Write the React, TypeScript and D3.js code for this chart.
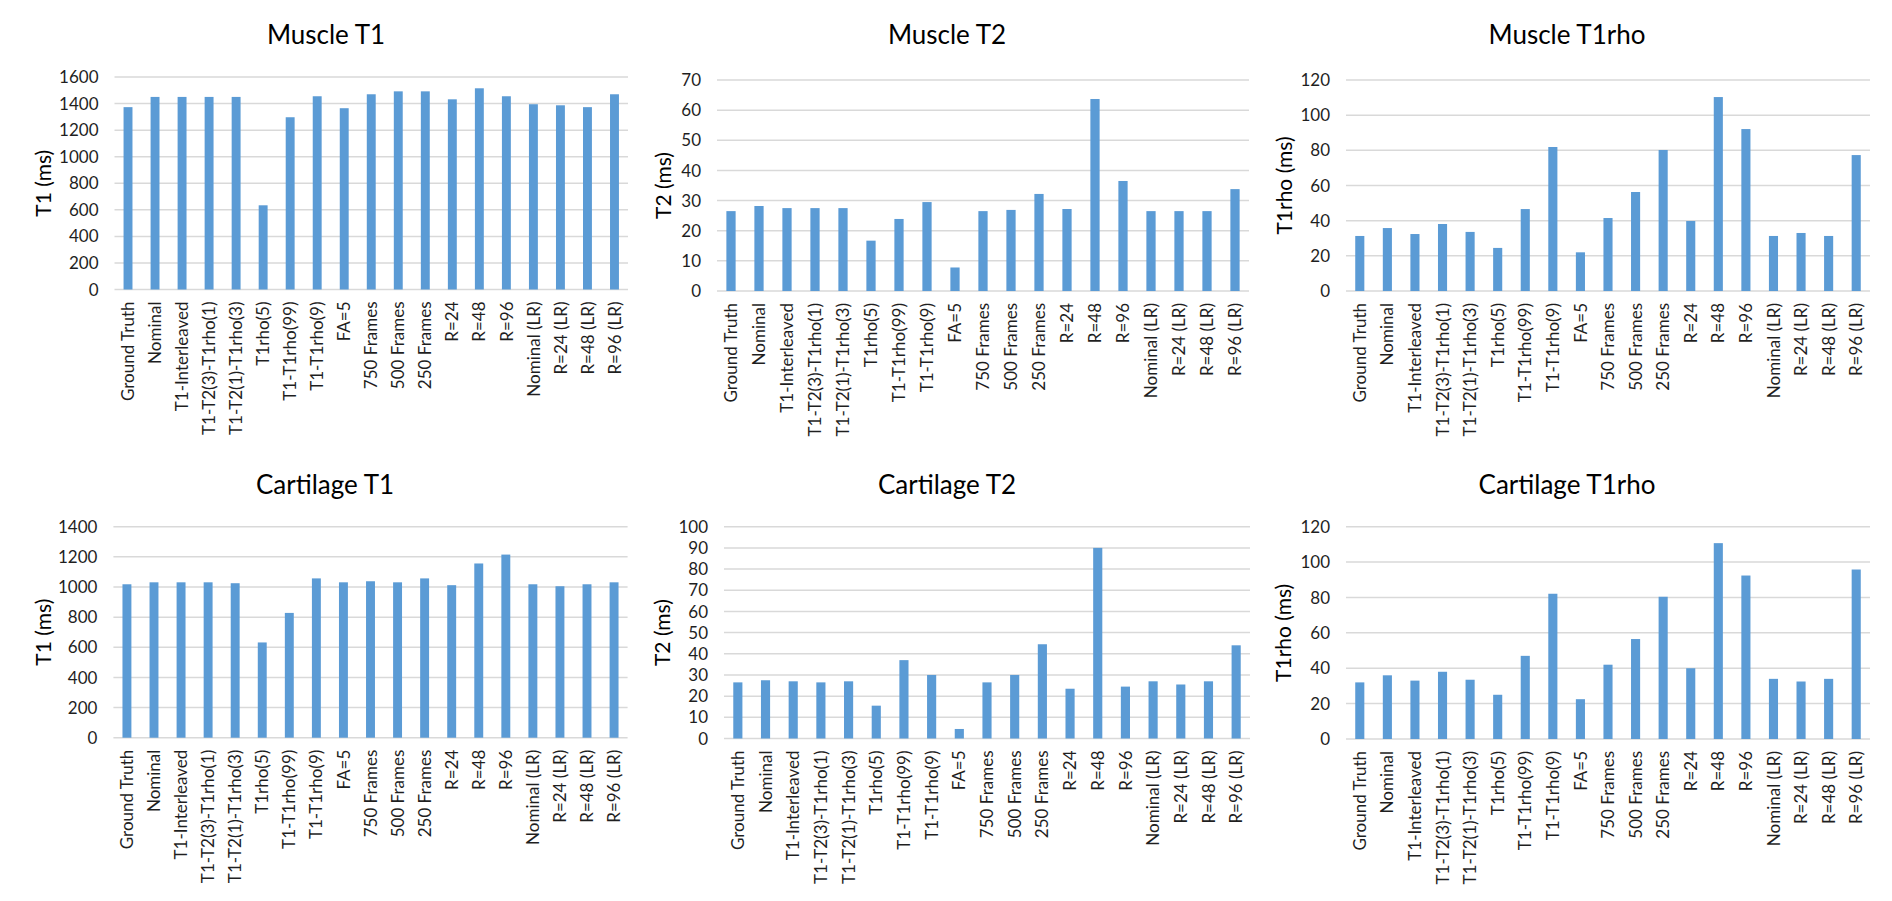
import React, { useEffect, useRef } from 'react';
import * as d3 from 'd3';

const categories = [
  'Ground Truth', 'Nominal', 'T1-Interleaved', 'T1-T2(3)-T1rho(1)', 'T1-T2(1)-T1rho(3)',
  'T1rho(5)', 'T1-T1rho(99)', 'T1-T1rho(9)', 'FA=5', '750 Frames', '500 Frames',
  '250 Frames', 'R=24', 'R=48', 'R=96', 'Nominal (LR)', 'R=24 (LR)', 'R=48 (LR)', 'R=96 (LR)',
];

const muscleT1 = [1373, 1450, 1450, 1450, 1450, 634, 1297, 1455, 1365, 1470, 1492, 1492, 1432, 1515, 1455, 1395, 1387, 1373, 1470];
const muscleT2 = [26.5, 28.2, 27.5, 27.5, 27.5, 16.7, 23.9, 29.5, 7.8, 26.5, 26.9, 32.2, 27.2, 63.7, 36.5, 26.5, 26.5, 26.5, 33.8];
const muscleT1rho = [31.3, 35.8, 32.4, 38.1, 33.6, 24.5, 46.6, 81.9, 22, 41.5, 56.3, 80.2, 39.8, 110.3, 92.1, 31.3, 33, 31.3, 77.3];
const cartilageT1 = [1018, 1031, 1031, 1031, 1025, 632, 828, 1057, 1031, 1038, 1031, 1057, 1012, 1156, 1215, 1018, 1005, 1018, 1031];
const cartilageT2 = [26.5, 27.5, 27, 26.5, 27, 15.5, 37, 30, 4.5, 26.5, 30, 44.5, 23.5, 90, 24.5, 27, 25.5, 27, 44];
const cartilageT1rho = [32, 36, 33, 38, 33.5, 25, 47, 82.1, 22.5, 42, 56.5, 80.4, 40, 110.7, 92.4, 34, 32.5, 34, 95.8];

const titles = ['Muscle T1', 'Muscle T2', 'Muscle T1rho', 'Cartilage T1', 'Cartilage T2', 'Cartilage T1rho'];
const yLabels = ['T1 (ms)', 'T2 (ms)', 'T1rho (ms)', 'T1 (ms)', 'T2 (ms)', 'T1rho (ms)'];
const yMax = [1600, 70, 120, 1400, 100, 120];
const yStep = [200, 10, 20, 200, 10, 20];
const seriesList = [muscleT1, muscleT2, muscleT1rho, cartilageT1, cartilageT2, cartilageT1rho];

// layout (pixels)
const layout = [
  { x0: 114.5, x1: 628, yTop: 77, yBot: 289.5, titleX: 326, titleY: 44, labelX: 43 },
  { x0: 717, x1: 1249, yTop: 80, yBot: 291, titleX: 947, titleY: 44, labelX: 663.5 },
  { x0: 1346, x1: 1870, yTop: 80, yBot: 291, titleX: 1567, titleY: 44, labelX: 1284 },
  { x0: 113.4, x1: 627.6, yTop: 526.7, yBot: 737.7, titleX: 325, titleY: 494, labelX: 43 },
  { x0: 724, x1: 1250, yTop: 526.7, yBot: 738.5, titleX: 947, titleY: 494, labelX: 662 },
  { x0: 1346, x1: 1870, yTop: 526.7, yBot: 739, titleX: 1567, titleY: 494, labelX: 1283 },
];

const FONT = 'Lato, "Open Sans", sans-serif';
const BAR = '#5B9BD5';
const GRID = '#D9D9D9';
const TEXT = '#1f1f1f';

export default function App() {
  const ref = useRef<SVGSVGElement | null>(null);

  useEffect(() => {
    document.body.style.margin = '0';
    const svg = d3.select(ref.current);
    svg.selectAll('*').remove();
    svg.append('rect').attr('width', 1892).attr('height', 901).attr('fill', '#fff');

    seriesList.forEach((values, i) => {
      const L = layout[i];
      const g = svg.append('g');
      const x = d3.scaleBand<string>().domain(categories).range([L.x0, L.x1]).paddingInner(0.67).paddingOuter(0.335);
      const y = d3.scaleLinear().domain([0, yMax[i]]).range([L.yBot, L.yTop]);
      const ticks = d3.range(0, yMax[i] + yStep[i] / 2, yStep[i]);

      g.selectAll('line.grid').data(ticks).enter().append('line')
        .attr('x1', L.x0).attr('x2', L.x1)
        .attr('y1', (d) => y(d)).attr('y2', (d) => y(d))
        .attr('stroke', GRID).attr('stroke-width', 1.5);

      g.selectAll('text.tick').data(ticks).enter().append('text')
        .attr('x', L.x0 - 16).attr('y', (d) => y(d)).attr('dy', '0.36em')
        .attr('text-anchor', 'end').attr('font-family', FONT).attr('font-size', 17)
        .attr('fill', TEXT).text((d) => String(d));

      g.selectAll('rect.bar').data(values).enter().append('rect')
        .attr('x', (_d, j) => x(categories[j]) as number)
        .attr('width', x.bandwidth())
        .attr('y', (d) => y(d))
        .attr('height', (d) => L.yBot - y(d))
        .attr('fill', BAR);

      g.selectAll('text.cat').data(categories).enter().append('text')
        .attr('transform', (d) => `translate(${(x(d) as number) + x.bandwidth() / 2},${L.yBot + 12}) rotate(-90)`)
        .attr('dy', '0.36em')
        .attr('text-anchor', 'end').attr('font-family', FONT).attr('font-size', 17)
        .attr('fill', TEXT).text((d) => d);

      g.append('text')
        .attr('x', L.titleX).attr('y', L.titleY)
        .attr('text-anchor', 'middle').attr('font-family', FONT).attr('font-size', 26)
        .attr('fill', '#000').text(titles[i]);

      g.append('text')
        .attr('transform', `translate(${L.labelX},${(L.yTop + L.yBot) / 2}) rotate(-90)`)
        .attr('dy', '0.36em')
        .attr('text-anchor', 'middle').attr('font-family', FONT).attr('font-size', 21)
        .attr('fill', '#000').text(yLabels[i]);
    });
  }, []);

  return <svg ref={ref} width={1892} height={901} style={{ display: 'block' }} />;
}
